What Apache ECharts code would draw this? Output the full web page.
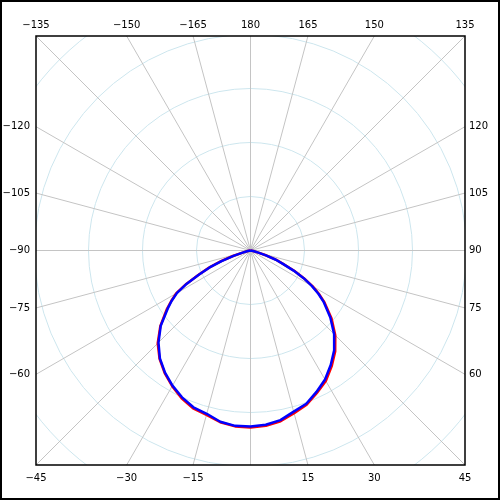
<!DOCTYPE html>
<html>
<head>
<meta charset="utf-8">
<script src="https://cdn.jsdelivr.net/npm/echarts@6/dist/echarts.min.js"></script>
<style>
  html, body { margin: 0; padding: 0; background: #fff; }
  #chart { width: 500px; height: 500px; }
</style>
</head>
<body>
<div id="chart"></div>
<script>
// angles in degrees, 0 = straight down, +90 = right, -90 = left
var angles = [-90, -85, -80, -75, -72.5, -70, -67.5, -65, -62.5, -60, -57.5, -55, -50, -45, -40, -35, -30, -25, -20, -15, -10, -5,
  0, 5, 10, 15, 20, 25, 30, 35, 40, 45, 50, 55, 57.5, 60, 62.5, 65, 67.5, 70, 72.5, 75, 80, 85, 90]
// intensity, same scale as the rings (100 per ring)
var blueValues = [0, 2, 5, 15, 33, 57, 82, 105, 133, 157, 173, 187, 217, 241, 261, 276, 289, 300, 309, 313, 322, 326,
  326, 324, 319, 309, 302, 289, 276, 259, 241, 219, 193, 165, 149, 131, 111, 88, 65, 50, 30, 15, 5, 2, 0]
var redValues = [0, 2, 5, 15, 34, 58, 83, 106, 134, 159, 174, 189, 218, 243, 262, 277, 290, 302, 311, 315, 323, 327,
  328, 326, 321, 312, 304, 291, 279, 262, 244, 222, 196, 167, 151, 133, 112, 90, 66, 51, 31, 15, 5, 2, 0]
// labels around the frame
var tickAngles = [-165, -150, -135, -120, -105, -90, -75, -60, -45, -30, -15, 15, 30, 45, 60, 75, 90, 105, 120, 135, 150, 165, 180]

var cx = 250.5, cy = 250.5, half = 214.5

var chart = echarts.init(document.getElementById('chart'))

function pairs (vals) {
  return angles.map(function (a, i) { return [vals[i], a] })
}

var graphics = [
  // white masks outside the plot frame
  { type: 'rect', z: 100, shape: { x: 0, y: 0, width: 500, height: cy - half }, style: { fill: '#fff' } },
  { type: 'rect', z: 100, shape: { x: 0, y: cy + half, width: 500, height: 500 }, style: { fill: '#fff' } },
  { type: 'rect', z: 100, shape: { x: 0, y: 0, width: cx - half, height: 500 }, style: { fill: '#fff' } },
  { type: 'rect', z: 100, shape: { x: cx + half, y: 0, width: 500, height: 500 }, style: { fill: '#fff' } },
  // plot frame
  { type: 'rect', z: 101, shape: { x: cx - half, y: cy - half, width: half * 2, height: half * 2 }, style: { fill: null, stroke: '#000', lineWidth: 1.5 } },
  // outer border
  { type: 'rect', z: 101, shape: { x: 1, y: 1, width: 498, height: 498 }, style: { fill: null, stroke: '#000', lineWidth: 2 } }
]

tickAngles.forEach(function (a) {
  var rad = a * Math.PI / 180
  var dx = Math.sin(rad)
  var dy = Math.cos(rad)
  var t = half / Math.max(Math.abs(dx), Math.abs(dy))
  var px = cx + t * dx
  var py = cy + t * dy
  var x, y, align
  if (Math.abs(dy) >= Math.abs(dx) - 1e-6) {
    x = px
    y = dy < 0 ? cy - half - 11 : cy + half + 13
    align = 'center'
  } else if (dx < 0) {
    x = cx - half - 6
    y = py
    align = 'right'
  } else {
    x = cx + half + 4
    y = py
    align = 'left'
  }
  graphics.push({
    type: 'text',
    z: 102,
    x: x,
    y: y,
    style: {
      text: String(a).replace('-', '\u2212'),
      fill: '#000',
      font: '10px "DejaVu Sans"',
      textAlign: align,
      textVerticalAlign: 'middle'
    }
  })
})

var option = {
  animation: false,
  polar: {
    center: [cx, cy],
    radius: 324
  },
  angleAxis: {
    type: 'value',
    min: -180,
    max: 180,
    interval: 15,
    startAngle: 90,
    clockwise: false,
    axisLine: { show: false },
    axisTick: { show: false },
    axisLabel: { show: false },
    splitLine: { show: true, lineStyle: { color: '#c4c4c4', width: 1 } }
  },
  radiusAxis: {
    type: 'value',
    min: 0,
    max: 600,
    interval: 100,
    axisLine: { show: false },
    axisTick: { show: false },
    axisLabel: { show: false },
    splitLine: { show: true, lineStyle: { color: '#cde6ee', width: 1 } }
  },
  series: [
    {
      type: 'line',
      name: 'red',
      coordinateSystem: 'polar',
      data: pairs(redValues),
      showSymbol: false,
      lineStyle: { color: '#ff0000', width: 2.5 }
    },
    {
      type: 'line',
      name: 'blue',
      coordinateSystem: 'polar',
      data: pairs(blueValues),
      showSymbol: false,
      lineStyle: { color: '#0000ff', width: 2.5 }
    }
  ],
  graphic: graphics
}

chart.setOption(option)
</script>
</body>
</html>
